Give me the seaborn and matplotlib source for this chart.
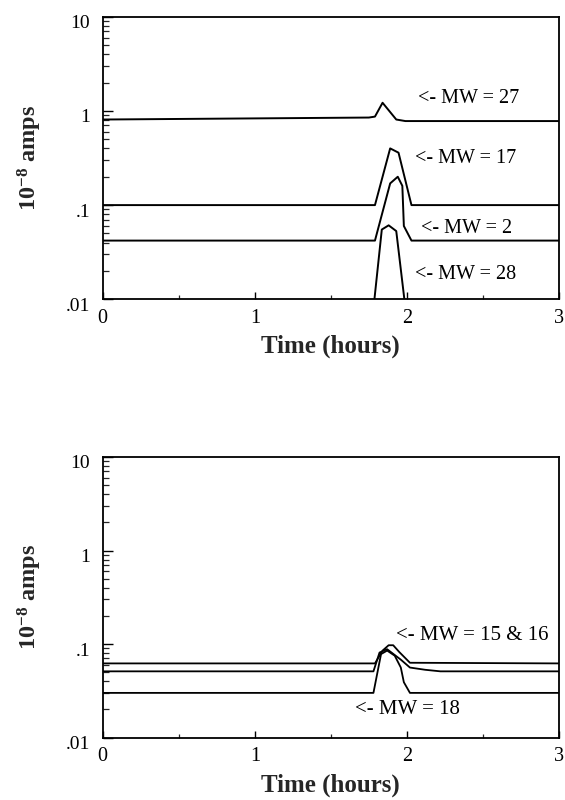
import matplotlib
matplotlib.use("Agg")
import matplotlib.pyplot as plt
import matplotlib.ticker as mticker
from matplotlib.transforms import ScaledTranslation
import seaborn as sns
import pandas as pd

# ---- data (top panel) ----
t27 = [0.0, 1.75, 1.79, 1.84, 1.93, 1.99, 3.0]
y27 = [0.81, 0.85, 0.87, 1.22, 0.81, 0.78, 0.78]
t17 = [0.0, 1.79, 1.89, 1.945, 2.03, 3.0]
y17 = [0.10, 0.10, 0.40, 0.36, 0.10, 0.10]
t2 = [0.0, 1.79, 1.89, 1.94, 1.97, 1.98, 2.03, 3.0]
y2 = [0.042, 0.042, 0.17, 0.20, 0.16, 0.06, 0.042, 0.042]
t28 = [1.785, 1.835, 1.88, 1.93, 1.985]
y28 = [0.0095, 0.055, 0.061, 0.053, 0.0095]

# ---- data (bottom panel) ----
tA = [0.0, 1.79, 1.84, 1.88, 1.91, 1.95, 2.02, 3.0]
yA = [0.062, 0.062, 0.085, 0.097, 0.097, 0.082, 0.063, 0.062]
tB = [0.0, 1.78, 1.82, 1.87, 1.96, 2.02, 2.12, 2.22, 3.0]
yB = [0.051, 0.051, 0.081, 0.088, 0.068, 0.056, 0.053, 0.051, 0.051]
t18 = [0.0, 1.78, 1.83, 1.87, 1.92, 1.96, 1.98, 2.02, 3.0]
y18 = [0.030, 0.030, 0.078, 0.085, 0.075, 0.056, 0.039, 0.030, 0.030]

top_series = [(t27, y27), (t17, y17), (t2, y2), (t28, y28)]
bot_series = [(tA, yA), (tB, yB), (t18, y18)]

top_labels = ["<- MW = 27", "<- MW = 17", "<- MW = 2", "<- MW = 28"]
top_label_t = [2.07, 2.05, 2.09, 2.05]
top_label_y = [1.37, 0.31, 0.057, 0.0185]
bot_labels = ["<- MW = 15 & 16", "<- MW = 18"]
bot_label_t = [1.93, 1.66]
bot_label_y = [0.123, 0.020]

ytick_vals = [0.01, 0.1, 1, 10]
ytick_text = [".01", ".1", "1", "10"]
xtick_vals = [0, 1, 2, 3]

sns.set_theme(style="ticks")
plt.rcParams["font.family"] = ["Liberation Serif", "DejaVu Serif"]
plt.rcParams["mathtext.fontset"] = "custom"
plt.rcParams["mathtext.rm"] = "Liberation Serif"
plt.rcParams["mathtext.bf"] = "Liberation Serif:bold"

fig = plt.figure(figsize=(5.65, 8.0), dpi=100)
ax1 = fig.add_axes([102.7 / 565, 1 - 299.3 / 800, 456.3 / 565, 282.6 / 800])
ax2 = fig.add_axes([102.7 / 565, 1 - 737.5 / 800, 456.3 / 565, 280.5 / 800])


def style(ax):
    ax.set_yscale("log")
    ax.set_xlim(0, 3)
    ax.set_ylim(0.01, 10)
    ax.yaxis.set_major_locator(mticker.FixedLocator(ytick_vals))
    ax.yaxis.set_major_formatter(mticker.FixedFormatter(ytick_text))
    ax.yaxis.set_minor_locator(mticker.LogLocator(base=10, subs=range(2, 10)))
    ax.yaxis.set_minor_formatter(mticker.NullFormatter())
    ax.xaxis.set_major_locator(mticker.FixedLocator(xtick_vals))
    ax.xaxis.set_minor_locator(mticker.MultipleLocator(0.5))
    ax.tick_params(axis="y", which="major", direction="in", length=7, width=1.0,
                   labelsize=14, pad=9, colors="black")
    ax.tick_params(axis="y", which="minor", direction="in", length=4, width=0.9)
    ax.tick_params(axis="x", which="major", direction="in", length=5, width=1.0,
                   labelsize=14.5, pad=7, colors="black")
    ax.tick_params(axis="x", which="minor", direction="in", length=3, width=0.9)
    for s in ax.spines.values():
        s.set_visible(True)
        s.set_linewidth(1.3)
        s.set_color("black")
    ax.set_xlabel("Time (hours)", fontsize=18, fontweight="bold", labelpad=5)
    ax.set_ylabel(r"$\mathbf{10^{-8}}$ amps", fontsize=17.5, fontweight="bold", labelpad=16)
    off = ScaledTranslation(0, -5 / 100, fig.dpi_scale_trans)
    for lab in ax.get_yticklabels():
        lab.set_transform(lab.get_transform() + off)


for t, y in top_series:
    df = pd.DataFrame({"t": t, "v": y})
    sns.lineplot(data=df, x="t", y="v", ax=ax1, color="black", lw=1.4,
                 estimator=None, sort=False)
for t, y in bot_series:
    df = pd.DataFrame({"t": t, "v": y})
    sns.lineplot(data=df, x="t", y="v", ax=ax2, color="black", lw=1.3,
                 estimator=None, sort=False)

style(ax1)
style(ax2)

for txt, tx, ty in zip(top_labels, top_label_t, top_label_y):
    ax1.text(tx, ty, txt, fontsize=14.5, va="center", ha="left", color="black")
for txt, tx, ty in zip(bot_labels, bot_label_t, bot_label_y):
    ax2.text(tx, ty, txt, fontsize=15, va="center", ha="left", color="black")

fig.savefig("out.png", dpi=100)
